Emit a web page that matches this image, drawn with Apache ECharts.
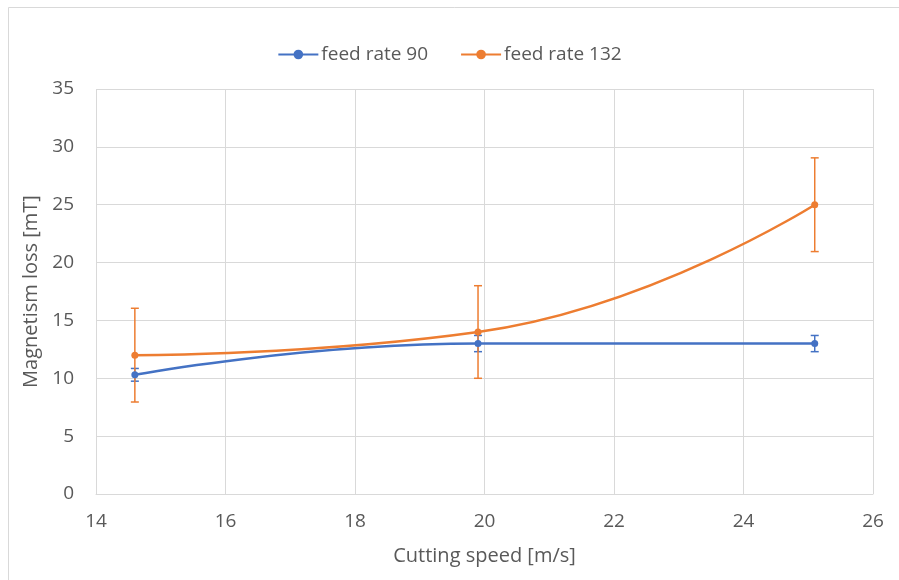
<!DOCTYPE html>
<html>
<head>
<meta charset="utf-8">
<script src="https://cdn.jsdelivr.net/npm/echarts@6/dist/echarts.min.js"></script>
<style>
  html, body { margin: 0; padding: 0; background: #fff; }
  #chart { width: 899px; height: 580px; }
</style>
</head>
<body>
<div id="chart"></div>
<script>
// cutting speed [m/s]
var speed = [14.6, 19.9, 25.1]
// magnetism loss [mT]
var feed90 = [10.3, 13.0, 13.0]
var feed90Err = [0.55, 0.7, 0.7]
var feed132 = [12.0, 14.0, 25.0]
var feed132Err = [4.05, 4.0, 4.05]
var xTicks = [14, 16, 18, 20, 22, 24, 26]
var yTicks = [0, 5, 10, 15, 20, 25, 30, 35]

var blue = '#4472C4'
var orange = '#ED7D31'
var textColor = '#595959'
var font = 'Open Sans'

function points(ys) {
  var list = []
  for (var i in speed) list.push([speed[i], ys[i]])
  return list
}

function errData(ys, err) {
  var list = []
  for (var i in speed) list.push([speed[i], ys[i] - err[i], ys[i] + err[i]])
  return list
}

// error bars, drawn through the axes
function errSeries(name, ys, err, color) {
  return {
    name: name,
    type: 'custom',
    data: errData(ys, err),
    z: 3,
    silent: true,
    itemStyle: { color: color },
    renderItem: function(params, api) {
      var lo = api.coord([api.value(0), api.value(1)])
      var hi = api.coord([api.value(0), api.value(2)])
      var half = 4
      var style = { stroke: color, lineWidth: 1.5, fill: null }
      return {
        type: 'group',
        children: [
          { type: 'line', shape: { x1: lo[0], y1: lo[1], x2: hi[0], y2: hi[1] }, style: style },
          { type: 'line', shape: { x1: lo[0] - half, y1: lo[1], x2: lo[0] + half, y2: lo[1] }, style: style },
          { type: 'line', shape: { x1: hi[0] - half, y1: hi[1], x2: hi[0] + half, y2: hi[1] }, style: style }
        ]
      }
    }
  }
}

var chart = echarts.init(document.getElementById('chart'))
var option = {
  backgroundColor: '#fff',
  animation: false,
  textStyle: { fontFamily: font, color: textColor },
  graphic: [{
    type: 'rect',
    shape: { x: 8.5, y: 7.5, width: 1000, height: 1000 },
    style: { fill: null, stroke: '#d9d9d9', lineWidth: 1 },
    silent: true
  }],
  legend: {
    top: 40,
    left: 'center',
    itemWidth: 40,
    itemHeight: 12,
    itemGap: 32,
    data: ['feed rate 90', 'feed rate 132'],
    textStyle: { fontFamily: font, fontSize: 19, color: textColor, padding: [0, 0, 0, -2] }
  },
  grid: {
    left: 96,
    right: 26,
    top: 89,
    bottom: 86,
    containLabel: false
  },
  xAxis: {
    type: 'value',
    min: xTicks[0],
    max: xTicks[xTicks.length - 1],
    interval: 2,
    name: 'Cutting speed [m/s]',
    nameLocation: 'middle',
    nameGap: 52,
    nameTextStyle: { fontFamily: font, fontSize: 20, color: textColor },
    axisLine: { show: true, lineStyle: { color: '#d9d9d9', width: 1 } },
    axisTick: { show: false },
    axisLabel: { fontFamily: font, fontSize: 19, color: textColor, margin: 18 },
    splitLine: { show: true, lineStyle: { color: '#d9d9d9', width: 1 } }
  },
  yAxis: {
    type: 'value',
    min: yTicks[0],
    max: yTicks[yTicks.length - 1],
    interval: 5,
    name: 'Magnetism loss [mT]',
    nameLocation: 'middle',
    nameGap: 52,
    nameTextStyle: { fontFamily: font, fontSize: 20, color: textColor },
    axisLine: { show: false },
    axisTick: { show: false },
    axisLabel: { fontFamily: font, fontSize: 19, color: textColor, margin: 22 },
    splitLine: { show: true, lineStyle: { color: '#d9d9d9', width: 1 } }
  },
  series: [
    errSeries('err 90', feed90, feed90Err, blue),
    errSeries('err 132', feed132, feed132Err, orange),
    {
      name: 'feed rate 90',
      type: 'line',
      data: points(feed90),
      smooth: 0.5,
      symbol: 'circle',
      symbolSize: 7,
      z: 4,
      color: blue,
      lineStyle: { color: blue, width: 2.5 },
      itemStyle: { color: blue }
    },
    {
      name: 'feed rate 132',
      type: 'line',
      data: points(feed132),
      smooth: 0.5,
      symbol: 'circle',
      symbolSize: 7,
      z: 5,
      color: orange,
      lineStyle: { color: orange, width: 2.5 },
      itemStyle: { color: orange }
    }
  ]
}
chart.setOption(option)
</script>
</body>
</html>
